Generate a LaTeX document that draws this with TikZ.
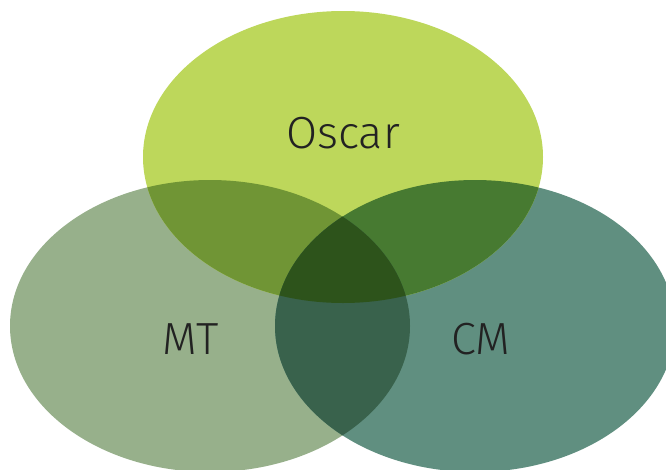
\documentclass[tikz,border=0pt]{standalone}
\usepackage{fontspec}
\setmainfont{Fira Sans}[UprightFont=* Light]
\begin{document}
\begin{tikzpicture}[x=1pt,y=-1pt]
\definecolor{cTop}{HTML}{BDD75B}
\definecolor{cLeft}{HTML}{97B08B}
\definecolor{cRight}{HTML}{608F80}
\definecolor{cLT}{HTML}{709535}
\definecolor{cTR}{HTML}{477A31}
\definecolor{cLR}{HTML}{39624C}
\definecolor{cAll}{HTML}{2D531B}
\definecolor{txt}{HTML}{222222}
\tikzset{lbl/.style={text=txt,font=\fontsize{45}{54}\selectfont,inner sep=0pt}}
\useasboundingbox (0,0) rectangle (666,469);
\def\topE{(343,157) ellipse [x radius=200,y radius=146]}
\def\leftE{(210,326) ellipse [x radius=200,y radius=146]}
\def\rightE{(475,326) ellipse [x radius=200,y radius=146]}
\fill[cLeft] \leftE;
\fill[cRight] \rightE;
\fill[cTop] \topE;
\begin{scope}\clip \leftE; \fill[cLT] \topE; \end{scope}
\begin{scope}\clip \rightE; \fill[cTR] \topE; \end{scope}
\begin{scope}\clip \leftE; \fill[cLR] \rightE; \end{scope}
\begin{scope}\clip \leftE; \clip \rightE; \fill[cAll] \topE; \end{scope}
\node[lbl] (oscar) at (343,133) {Oscar};
\node[lbl] (mt) at (191,339) {MT};
\node[lbl] (cm) at (481,339) {CM};
\end{tikzpicture}
\end{document}
